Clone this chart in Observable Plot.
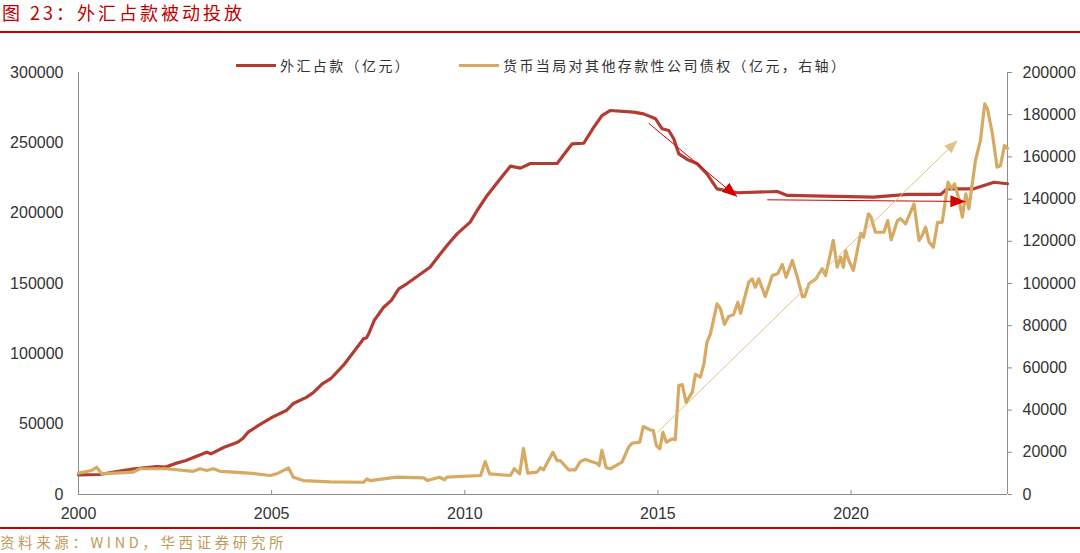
<!DOCTYPE html>
<html>
<head>
<meta charset="utf-8">
<script src="https://cdn.jsdelivr.net/npm/d3@7"></script>
<script src="https://cdn.jsdelivr.net/npm/@observablehq/plot@0.6"></script>
<style>
  html, body { margin: 0; padding: 0; background: #fff; }
  #wrap { position: relative; width: 1080px; height: 553px; overflow: hidden; font-family: "Noto Sans CJK SC", "Noto Sans", sans-serif; }
  #title { position: absolute; left: 2px; top: 0px; font-size: 18px; letter-spacing: 3px; color: #c00000; line-height: 24px; white-space: nowrap; }
  #titleRule { position: absolute; left: 0; top: 31px; width: 1080px; height: 2px; background: #c00000; }
  #chart { position: absolute; left: 0; top: 40px; }
  #legend { position: absolute; top: 55px; left: 0; width: 1080px; height: 20px; font-size: 14px; color: #333; }
  .sw { position: absolute; top: 9px; width: 40px; height: 3px; }
  .lt { position: absolute; top: 0; line-height: 20px; letter-spacing: 2.4px; white-space: nowrap; }
  #footRule { position: absolute; left: 0; top: 527px; width: 1080px; height: 2px; background: #c00000; }
  #foot { position: absolute; left: 0; top: 532px; font-size: 14.5px; letter-spacing: 3.6px; color: #c09a5b; line-height: 20px; white-space: nowrap; }
</style>
</head>
<body>
<div id="wrap">
  <div id="title"></div>
  <div id="titleRule"></div>
  <div id="chart"></div>
  <div id="legend"></div>
  <div id="footRule"></div>
  <div id="foot"></div>
</div>
<script>
// ---- text ----
const titleText = "图 23：外汇占款被动投放";
const sourceText = "资料来源：WIND，华西证券研究所";
const seriesNames = ["外汇占款（亿元）", "货币当局对其他存款性公司债权（亿元，右轴）"];
const seriesColors = ["#b23c32", "#d6aa62"];

// ---- ticks ----
const xTicks = [2000, 2005, 2010, 2015, 2020];
const leftTicks = [0, 50000, 100000, 150000, 200000, 250000, 300000];
const rightTicks = [0, 20000, 40000, 60000, 80000, 100000, 120000, 140000, 160000, 180000, 200000];

// ---- 外汇占款 (left axis, 亿元) ----
const fxTime = [2000.0, 2000.55, 2000.91, 2001.44, 2002.03, 2002.24, 2002.54, 2002.78, 2003.32, 2003.43, 2003.77,
  2004.12, 2004.26, 2004.39, 2004.66, 2005.02, 2005.38, 2005.55, 2005.91, 2006.09, 2006.31, 2006.53, 2006.89,
  2007.25, 2007.38, 2007.46, 2007.53, 2007.66, 2007.9, 2008.1, 2008.29, 2008.5, 2008.8, 2009.1, 2009.37, 2009.54,
  2009.8, 2010.14, 2010.32, 2010.58, 2010.92, 2011.18, 2011.44, 2011.7, 2012.39, 2012.78, 2013.08, 2013.34,
  2013.55, 2013.77, 2014.37, 2014.63, 2014.94, 2015.11, 2015.28, 2015.41, 2015.54, 2015.76, 2016.02, 2016.27,
  2016.53, 2016.87, 2017.05, 2018.09, 2018.35, 2020.58, 2021.46, 2022.32, 2022.49, 2023.18, 2023.7, 2024.05];
const fxValue = [14000, 14200, 15900, 18300, 19900, 19400, 22300, 24200, 30100, 28900, 33600,
  37200, 40000, 44300, 49100, 55000, 59700, 64500, 69200, 72700, 78700, 82300, 92900,
  105900, 110700, 111500, 115400, 124000, 133100, 138000, 146200, 149800, 155700, 161600, 171100, 177000,
  185300, 193600, 201900, 212600, 224400, 233400, 232000, 235300, 235300, 249300, 249700, 261100,
  269400, 273000, 271800, 270600, 267100, 260000, 258800, 252900, 242200, 238200, 235100, 228000,
  217300, 215600, 214500, 215400, 212600, 211400, 213300, 213300, 217300, 217300, 222000, 220900];

// ---- 货币当局对其他存款性公司债权 (right axis, 亿元) ----
const claimTime = [2000.0, 2000.34, 2000.47, 2000.6, 2001.42, 2001.59, 2002.28, 2002.97, 2003.15, 2003.32, 2003.49,
  2003.67, 2004.01, 2004.5, 2004.96, 2005.13, 2005.44, 2005.56, 2005.82, 2006.5, 2007.38, 2007.47, 2007.55,
  2008.24, 2008.94, 2009.03, 2009.34, 2009.48, 2009.54, 2010.41, 2010.53, 2010.64, 2011.18, 2011.28, 2011.42,
  2011.52, 2011.63, 2011.87, 2011.96, 2012.04, 2012.28, 2012.39, 2012.47, 2012.69, 2012.86, 2012.99, 2013.12,
  2013.25, 2013.42, 2013.48, 2013.55, 2013.66, 2013.77, 2014.07, 2014.24, 2014.33, 2014.53, 2014.62, 2014.79,
  2014.88, 2014.96, 2015.05, 2015.13, 2015.22, 2015.37, 2015.45, 2015.54, 2015.63, 2015.73, 2015.89, 2015.97,
  2016.1, 2016.19, 2016.27, 2016.36, 2016.53, 2016.62, 2016.72, 2016.83, 2016.96, 2017.07, 2017.14, 2017.35,
  2017.44, 2017.52, 2017.61, 2017.78, 2017.96, 2018.1, 2018.22, 2018.32, 2018.48, 2018.61, 2018.74, 2018.8,
  2018.91, 2019.09, 2019.25, 2019.34, 2019.54, 2019.64, 2019.73, 2019.8, 2019.86, 2019.94, 2020.06, 2020.25,
  2020.32, 2020.45, 2020.52, 2020.63, 2020.85, 2020.95, 2021.04, 2021.2, 2021.28, 2021.41, 2021.63, 2021.76,
  2021.84, 2021.93, 2022.02, 2022.13, 2022.24, 2022.36, 2022.51, 2022.6, 2022.68, 2022.79, 2022.88, 2022.97,
  2023.05, 2023.22, 2023.35, 2023.46, 2023.53, 2023.66, 2023.78, 2023.87, 2023.97, 2024.05];
const claimValue = [10100, 11400, 12900, 9800, 10600, 12200, 12200, 11000, 12200, 11400, 12200,
  11000, 10600, 10000, 9000, 9800, 12600, 8200, 6600, 6000, 5800, 7400, 6600,
  8200, 7900, 6600, 8200, 7000, 8200, 9000, 15600, 9800, 9000, 12200, 9800,
  21900, 10100, 10600, 12700, 11700, 20000, 16100, 16100, 11700, 11700, 15600, 16700,
  15800, 14800, 13700, 20900, 12700, 12200, 15300, 22400, 24300, 24800, 32200, 30700,
  30300, 23200, 21700, 29500, 24800, 26400, 25900, 51600, 52100, 43700, 48500, 56900,
  55600, 61900, 72200, 76100, 90400, 88000, 80600, 84400, 85300, 91100, 85900, 100600,
  102200, 98200, 102200, 93800, 103800, 104600, 109000, 103000, 110900, 103000, 93800, 93800,
  99900, 102200, 107000, 103800, 120400, 107700, 112500, 107700, 115600, 110900, 106200, 123800,
  121900, 133000, 131400, 124300, 124300, 129800, 120700, 129800, 130700, 128300, 137700, 120400,
  122700, 126700, 119600, 117200, 129000, 129000, 148000, 144900, 147200, 140100, 131400, 142500,
  135400, 158300, 167800, 185100, 182800, 170900, 155100, 155900, 165400, 164000];

// ---- annotation arrows ----
const arrowT1 = [2014.76, 2017.83, 2014.99];
const arrowV1 = [263900, 209500, 29500];
const arrowT2 = [2017.05, 2022.96, 2022.75];
const arrowV2 = [211600, 208300, 167800];
const arrowAxis = ["left", "left", "right"];
const arrowColors = ["#d40000", "#d40000", "#e2bf86"];

// ---- build tables ----
const xMax = 2024.05;
const ratio = 300000 / 200000; // right axis -> left axis scale
const fx = fxTime.map((t, i) => ({t, v: fxValue[i]}));
const claim = claimTime.map((t, i) => ({t, v: claimValue[i] * ratio}));
const arrows = arrowT1.map((t, i) => ({
  t1: t, t2: arrowT2[i],
  v1: arrowAxis[i] === "right" ? arrowV1[i] * ratio : arrowV1[i],
  v2: arrowAxis[i] === "right" ? arrowV2[i] * ratio : arrowV2[i],
  c: arrowColors[i]
}));

const axisColor = "#8c8c8c";
const chart = Plot.plot({
  width: 1080,
  height: 484,
  marginTop: 32,
  marginBottom: 30,
  marginLeft: 78,
  marginRight: 73,
  style: {fontFamily: "'Liberation Sans', Arial, sans-serif", fontSize: "16px", color: "#333", background: "transparent"},
  x: {domain: [2000, xMax]},
  y: {domain: [0, 300000]},
  marks: [
    Plot.axisY({anchor: "left", ticks: leftTicks, tickSize: 0, tickPadding: 15, tickFormat: d => String(d), label: null, fill: "#333"}),
    Plot.axisY({anchor: "right", ticks: rightTicks.map(d => d * ratio), tickSize: 4, tickPadding: 11,
      tickFormat: d => String(Math.round(d / ratio)), label: null, stroke: axisColor, fill: "#333"}),
    Plot.axisX({ticks: xTicks, tickSize: 0, tickPadding: 13, tickFormat: d3.format("d"), label: null, fill: "#333"}),
    Plot.ruleX(xTicks, {x: d => d, insetTop: 418, stroke: axisColor}),
    Plot.ruleX([2000, xMax], {stroke: axisColor}),
    Plot.ruleY([0], {stroke: axisColor}),
    Plot.line(fx, {x: "t", y: "v", stroke: seriesColors[0], strokeWidth: 3.2, strokeLinejoin: "round"}),
    Plot.line(claim, {x: "t", y: "v", stroke: seriesColors[1], strokeWidth: 3.2, strokeLinejoin: "round"}),
    Plot.link(arrows, {x1: "t1", y1: "v1", x2: "t2", y2: "v2", stroke: "c", strokeWidth: 1, markerEnd: "arrow"})
  ]
});

// make arrowheads solid triangles
d3.select(chart).selectAll("marker").each(function() {
  const m = d3.select(this);
  const col = m.attr("stroke");
  const big = col && col.toLowerCase() === "#d40000";
  m.attr("viewBox", "-10 -5 10 10")
   .attr("markerUnits", "userSpaceOnUse")
   .attr("markerWidth", big ? 15 : 13)
   .attr("markerHeight", big ? 15 : 13)
   .attr("fill", col).attr("stroke", "none");
  m.selectAll("path").attr("d", "M-10,-4L0,0L-10,4Z");
});

document.getElementById("chart").appendChild(chart);
document.getElementById("title").textContent = titleText;
document.getElementById("foot").textContent = sourceText;

const legend = document.getElementById("legend");
const legendPos = [[236, 280], [459, 503]];
seriesNames.forEach((name, i) => {
  const sw = document.createElement("div");
  sw.className = "sw";
  sw.style.left = legendPos[i][0] + "px";
  sw.style.background = seriesColors[i];
  legend.appendChild(sw);
  const lt = document.createElement("div");
  lt.className = "lt";
  lt.style.left = legendPos[i][1] + "px";
  lt.textContent = name;
  legend.appendChild(lt);
});
</script>
</body>
</html>
